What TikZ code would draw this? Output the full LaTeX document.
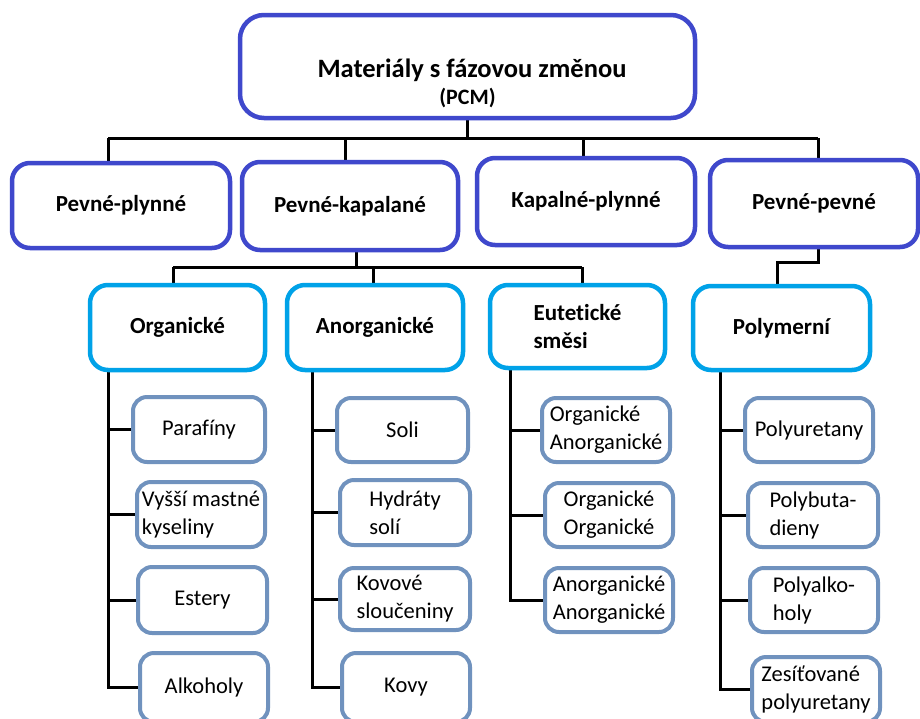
\documentclass[tikz,border=0pt]{standalone}
\usepackage{fontspec}
\setmainfont[Ligatures=NoCommon]{Carlito}
\usetikzlibrary{backgrounds}
\definecolor{topblue}{HTML}{3F48CC}
\definecolor{midblue}{HTML}{00A2E8}
\definecolor{leafblue}{HTML}{7092BE}
\begin{document}
\begin{tikzpicture}[x=1pt,y=-1pt,
  box/.style={draw, fill=white, outer sep=0pt, inner sep=2pt},
  lvlone/.style={box, draw=topblue, line width=4.5pt, rounded corners=24pt},
  lvltwo/.style={box, draw=topblue, line width=4.5pt, rounded corners=18pt,
    font=\fontsize{23}{28}\selectfont\bfseries},
  lvlthree/.style={box, draw=midblue, line width=4.5pt, rounded corners=18pt,
    font=\fontsize{23}{28}\selectfont\bfseries, align=left},
  leaf/.style={box, draw=leafblue, line width=4pt, rounded corners=14pt,
    font=\fontsize{22.5}{28}\selectfont, align=left},
  wire/.style={line width=3pt, black}]
\useasboundingbox (0,0) rectangle (920,718);

% top node
\node[lvlone, minimum width=455pt, minimum height=103pt] (pcm) at (467.5,66.5) {};
\node[font=\fontsize{26.5}{30}\selectfont\bfseries, anchor=base] (pcmtitle) at (472,77) {Materiály s fázovou změnou};
\node[font=\fontsize{22}{24}\selectfont\bfseries, anchor=base] (pcmabbr) at (467.5,104) {(PCM)};

% phase-change types
\node[lvltwo, minimum width=218pt, minimum height=85pt] (pp) at (121,205.5) {Pevné-plynné};
\node[lvltwo, minimum width=216pt, minimum height=88pt] (pk) at (350,206) {Pevné-kapalané};
\node[lvltwo, minimum width=218pt, minimum height=87pt] (kp) at (586,201.5) {Kapalné-plynné};
\node[lvltwo, minimum width=208pt, minimum height=87pt] (pe) at (814,203.5) {Pevné-pevné};

% material groups
\node[lvlthree, minimum width=175pt, minimum height=85pt] (org) at (177.5,327.5) {Organické};
\node[lvlthree, minimum width=176pt, minimum height=85pt] (ano) at (375,327.5) {Anorganické};
\node[lvlthree, minimum width=175pt, minimum height=83pt] (eut) at (577.5,326.5) {Eutetické\\směsi};
\node[lvlthree, minimum width=177pt, minimum height=84pt] (pol) at (781.5,328) {Polymerní};

% organic materials
\node[leaf, minimum width=132pt, minimum height=65pt] (par) at (199,429.5) {Parafíny};
\node[leaf, minimum width=128pt, minimum height=65pt] (vys) at (201,514.5) {Vyšší mastné\\kyseliny};
\node[leaf, minimum width=129pt, minimum height=66pt] (est) at (202.5,600) {Estery};
\node[leaf, minimum width=128pt, minimum height=69pt] (alk) at (204,687.5) {Alkoholy};

% inorganic materials
\node[leaf, minimum width=131pt, minimum height=64pt] (sol) at (402.5,430) {Soli};
\node[leaf, minimum width=130pt, minimum height=65pt] (hyd) at (405,512.5) {Hydráty\\solí};
\node[leaf, minimum width=130pt, minimum height=62pt] (kov) at (405,599) {Kovové\\sloučeniny};
\node[leaf, minimum width=128pt, minimum height=69pt] (kovy) at (406,687.5) {Kovy};

% eutectic mixtures
\node[leaf, minimum width=128pt, minimum height=64pt] (oa) at (606,430) {Organické\\Anorganické};
\node[leaf, minimum width=128pt, minimum height=64pt] (oo) at (609,515) {Organické\\Organické};
\node[leaf, minimum width=128pt, minimum height=64pt] (aa) at (609,600) {Anorganické\\Anorganické};

% polymers
\node[leaf, minimum width=128pt, minimum height=64pt] (pu) at (809,430) {Polyuretany};
\node[leaf, minimum width=130pt, minimum height=64pt] (pb) at (813,515) {Polybuta-\\dieny};
\node[leaf, minimum width=128pt, minimum height=64pt] (pa) at (814,600) {Polyalko-\\holy};
\node[leaf, minimum width=128pt, minimum height=65pt] (zp) at (816,689.5) {Zesíťované\\polyuretany};

\begin{scope}[on background layer]
  \fill[white] (0,0) rectangle (920,718);

  % top node to phase-change types
  \coordinate (b1) at (0,138);
  \coordinate (ppin) at ([xshift=-13pt]pp.north);
  \coordinate (pkin) at ([xshift=-5pt]pk.north);
  \coordinate (kpin) at ([xshift=-3pt]kp.north);
  \coordinate (pein) at ([xshift=4pt]pe.north);
  \draw[wire] (pcm.south) -- (pcm.south |- b1);
  \draw[wire] (ppin |- b1) -- (pein |- b1);
  \foreach \c in {ppin,pkin,kpin,pein} \draw[wire] (\c |- b1) -- (\c);

  % solid-liquid to material groups
  \coordinate (b2) at (0,267);
  \coordinate (pkout) at ([xshift=6pt]pk.south);
  \coordinate (orgin) at ([xshift=-4.5pt]org.north);
  \coordinate (anoin) at ([xshift=-2pt]ano.north);
  \coordinate (eutin) at ([xshift=4.5pt]eut.north);
  \draw[wire] (pkout) -- (pkout |- b2);
  \draw[wire] (orgin |- b2) -- (eutin |- b2);
  \foreach \c in {orgin,anoin,eutin} \draw[wire] (\c |- b2) -- (\c);

  % solid-solid to polymers
  \coordinate (b3) at (0,262);
  \coordinate (peout) at ([xshift=4pt]pe.south);
  \coordinate (polin) at ([xshift=-4.5pt]pol.north);
  \draw[wire] (peout) -- (peout |- b3) -| (polin);

  % group trunks and branches
  \coordinate (orgout) at ([xshift=18pt]org.south west);
  \draw[wire] (orgout) |- (alk.west);
  \foreach \c in {par,vys,est} \draw[wire] (orgout |- \c.west) -- (\c.west);

  \coordinate (anoout) at ([xshift=25pt]ano.south west);
  \draw[wire] (anoout) |- (kovy.west);
  \foreach \c in {sol,hyd,kov} \draw[wire] (anoout |- \c.west) -- (\c.west);

  \coordinate (eutout) at ([xshift=20pt]eut.south west);
  \draw[wire] (eutout) |- (aa.west);
  \foreach \c in {oa,oo} \draw[wire] (eutout |- \c.west) -- (\c.west);

  \coordinate (polout) at ([xshift=27pt]pol.south west);
  \draw[wire] (polout) |- (zp.west);
  \foreach \c in {pu,pb,pa} \draw[wire] (polout |- \c.west) -- (\c.west);
\end{scope}
\end{tikzpicture}
\end{document}
